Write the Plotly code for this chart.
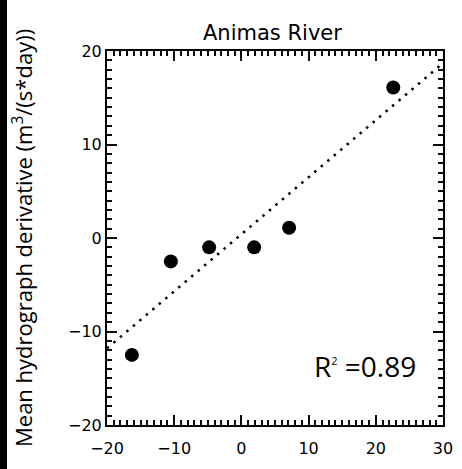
import plotly.graph_objects as go

# Data
x_vals = [-16.3, -10.5, -4.8, 1.9, 7.1, 22.6]
y_vals = [-12.5, -2.5, -1.0, -1.0, 1.1, 16.1]
fit_slope = 0.61
fit_intercept = 0.4
fit_x = [-20, 30]
r2_value = 0.89
title_text = "Animas River"
y_title = "Mean hydrograph derivative (m<sup>3</sup>/(s*day))"

W, H = 462, 469
L, R, T, B = 107, 19, 51, 44
pw = W - L - R
ph = H - T - B

fit_y = [fit_slope * v + fit_intercept for v in fit_x]

fig = go.Figure()
fig.add_trace(go.Scatter(x=fit_x, y=fit_y, mode="lines",
                         line=dict(color="black", width=2.5, dash="2.5px,6px"),
                         hoverinfo="skip", showlegend=False))
fig.add_trace(go.Scatter(x=x_vals, y=y_vals, mode="markers",
                         marker=dict(color="black", size=14),
                         showlegend=False))

axis_common = dict(
    showgrid=False, zeroline=False, showline=True, linecolor="#000000", linewidth=2,
    mirror="ticks", ticks="inside", ticklen=10, tickwidth=2, tickcolor="#0a0a0a",
    minor=dict(dtick=1, ticks="inside", ticklen=5, tickwidth=1.5, tickcolor="#0a0a0a"),
)
fig.update_xaxes(range=[-20, 30], dtick=10, tick0=0, ticklabelstandoff=8, **axis_common)
fig.update_yaxes(range=[-20, 20], dtick=10, tick0=0, **axis_common)

fig.add_annotation(text=title_text, xref="paper", yref="paper",
                   x=(272 - L) / pw, y=1 + (T - 33) / ph, xanchor="center", yanchor="middle",
                   showarrow=False, font=dict(family="DejaVu Sans", size=21, color="black"))
fig.add_annotation(text=y_title, xref="paper", yref="paper",
                   x=(22 - L) / pw, y=0.5 + (238 - 238) / ph,
                   xanchor="center", yanchor="middle", textangle=-90,
                   showarrow=False, font=dict(family="Open Sans", size=22, color="black"))
fig.add_annotation(text="R<sup><span style='font-size:11px'>2</span></sup> =" + f"{r2_value:.2f}",
                   xref="paper", yref="paper",
                   x=(365 - L) / pw, y=1 - (366 - T) / ph,
                   xanchor="center", yanchor="middle",
                   showarrow=False, font=dict(family="Open Sans", size=28, color="black"))

fig.add_shape(type="rect", xref="paper", yref="paper",
              x0=(0 - L) / pw, x1=(7 - L) / pw, y0=-B / ph - 0.01,
              y1=1 + T / ph + 0.01,
              fillcolor="black", line=dict(width=0), layer="above")

fig.update_layout(template="none", width=W, height=H,
                  font=dict(family="DejaVu Sans", size=16, color="black"),
                  margin=dict(l=L, r=R, t=T, b=B, autoexpand=False),
                  plot_bgcolor="white", paper_bgcolor="white", showlegend=False)

fig.write_html("out.html", post_script="document.body.style.margin='0';",
               config={"displayModeBar": False})
